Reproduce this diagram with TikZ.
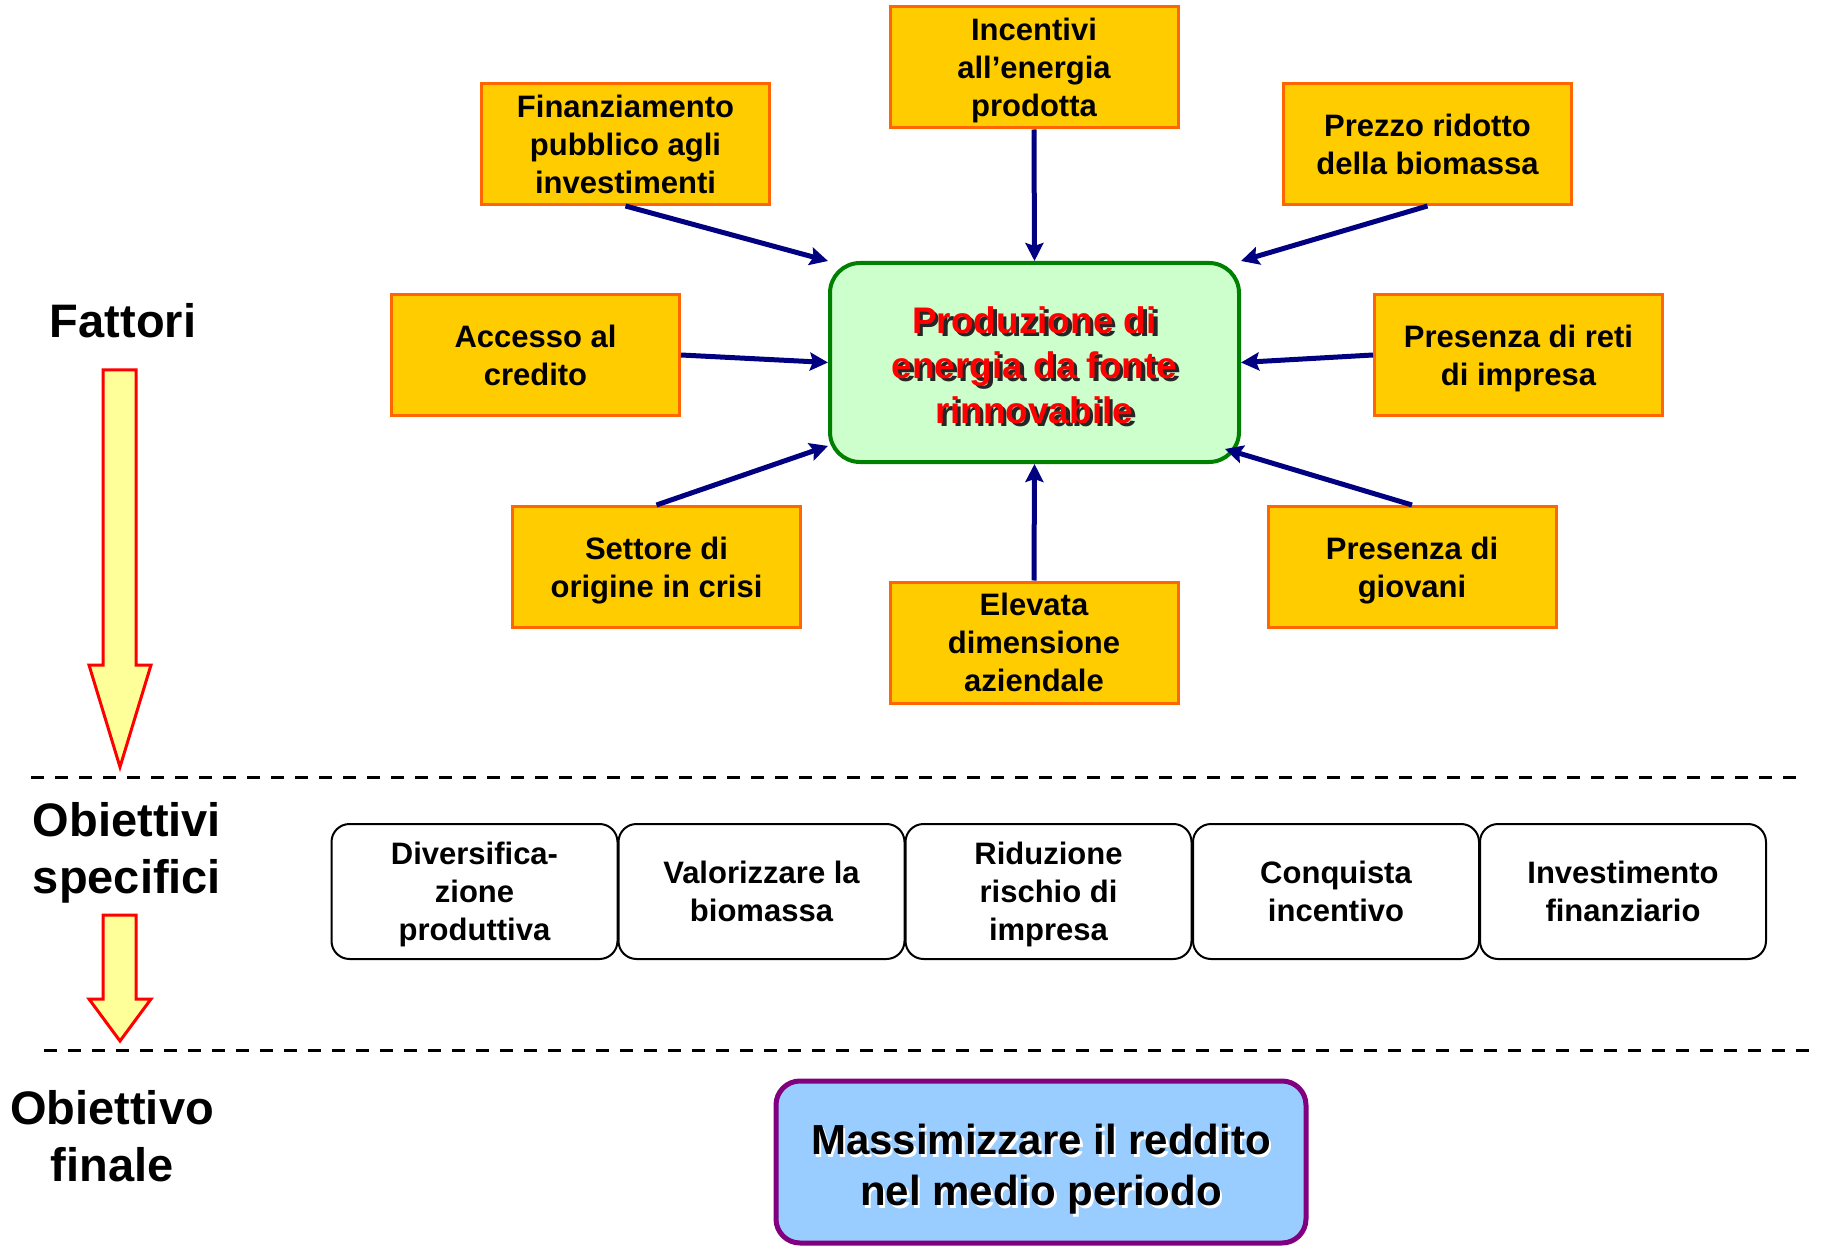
\documentclass[tikz,border=0pt]{standalone}
\usepackage{fontspec}
\setmainfont{Liberation Sans}
\usetikzlibrary{arrows.meta}
\definecolor{boxfill}{HTML}{FFCC00}
\definecolor{boxline}{HTML}{FF6600}
\definecolor{greenfill}{HTML}{CCFFCC}
\definecolor{greenline}{HTML}{008000}
\definecolor{navy}{HTML}{000080}
\definecolor{bluefill}{HTML}{99CCFF}
\definecolor{purpleline}{HTML}{800080}
\definecolor{arrowfill}{HTML}{FFFF99}
\begin{document}
\begin{tikzpicture}[x=0.5pt, y=-0.5pt,
  fattore/.style={draw=boxline, fill=boxfill, line width=1.5pt, minimum width=144pt,
    minimum height=60.5pt, inner sep=0pt, text depth=0pt, align=center,
    font=\fontsize{15.5}{19}\selectfont\bfseries},
  obiettivo/.style={draw, rounded corners=9pt, line width=1pt, minimum width=143pt,
    minimum height=67.5pt, inner sep=0pt, text depth=0pt, align=center,
    font=\fontsize{15.5}{19}\selectfont\bfseries},
  freccia/.style={draw=navy, line width=2.5pt, -{Stealth[length=9pt,width=9pt,inset=1.5pt]}},
  grossa/.style={draw=red, fill=arrowfill, line width=1.5pt},
  titolo/.style={align=center, text depth=0pt, font=\fontsize{23.5}{28.5}\selectfont\bfseries}]
\useasboundingbox (0,0) rectangle (1822,1246);
% centre
\node[draw=greenline, fill=greenfill, line width=2pt, rounded corners=15pt,
  minimum width=204.5pt, minimum height=99.5pt] (c) at (1034.5,362.5) {};
\node[text=black!85, align=center, font=\fontsize{18.5}{22.4}\selectfont\bfseries]
  (cshadow) at (1038,368.5) {Produzione di\\energia da fonte\\rinnovabile};
\node[text=red, align=center, font=\fontsize{18.5}{22.4}\selectfont\bfseries]
  (ctext) at (1034.5,365) {Produzione di\\energia da fonte\\rinnovabile};
% factors
\foreach \x/\y/\n/\t in {625.5/144/fin/{Finanziamento\\pubblico agli\\investimenti},
    1034/67.5/inc/{Incentivi\\all’energia\\prodotta},
    1427.5/144/prez/{Prezzo ridotto\\della biomassa},
    535.5/355/acc/{Accesso al\\credito},
    1518.5/355/reti/{Presenza di reti\\di impresa},
    656.5/567/sett/{Settore di\\origine in crisi},
    1034/642.5/elev/{Elevata\\dimensione\\aziendale},
    1412/567/giov/{Presenza di\\giovani}}
  \node[fattore] (\n) at (\x,\y) {\t};
\foreach \a/\b in {fin.south/c.north west, inc.south/c.north, prez.south/c.north east,
    acc.east/c.west, reti.west/c.east, sett.north/c.202, elev.north/c.south}
  \draw[freccia] (\a) -- (\b);
\draw[freccia] (giov.north) -- ([xshift=-8pt,yshift=7.5pt]c.south east);
% separators
\draw[line width=1.5pt, dash pattern=on 6.5pt off 5.5pt] (31,777) -- (1799,777);
\draw[line width=1.5pt, dash pattern=on 6.5pt off 5.5pt] (44,1050) -- (1813,1050);
% left column
\node[titolo] (fattori) at (123,320) {Fattori};
\node[titolo] (specifici) at (127,848) {Obiettivi\\specifici};
\node[titolo] (finale) at (112,1136) {Obiettivo\\finale};
\draw[grossa] (103,370) -- (136,370) -- (136,665) -- (151,665) -- (120,767)
  -- (89,665) -- (103,665) -- cycle;
\draw[grossa] (103,915) -- (136,915) -- (136,999) -- (151,999) -- (120,1041)
  -- (89,999) -- (103,999) -- cycle;
% specific goals
\foreach \x/\n/\t in {474.5/div/{Diversifica-\\zione\\produttiva},
    761.5/val/{Valorizzare la\\biomassa},
    1048.5/rid/{Riduzione\\rischio di\\impresa},
    1336/inc/{Conquista\\incentivo},
    1623/inv/{Investimento\\finanziario}}
  \node[obiettivo] (o\n) at (\x,891.5) {\t};
% final goal
\node[draw=purpleline, fill=bluefill, line width=2.5pt, rounded corners=12pt,
  minimum width=265pt, minimum height=81pt] (meta) at (1041,1162) {};
\node[text=white, align=center, text depth=0pt, font=\fontsize{21}{25.5}\selectfont\bfseries]
  (metashadow) at (1043.5,1167.5) {Massimizzare il reddito\\nel medio periodo};
\node[align=center, text depth=0pt, font=\fontsize{21}{25.5}\selectfont\bfseries]
  (metatext) at (1041,1165) {Massimizzare il reddito\\nel medio periodo};
\end{tikzpicture}
\end{document}
